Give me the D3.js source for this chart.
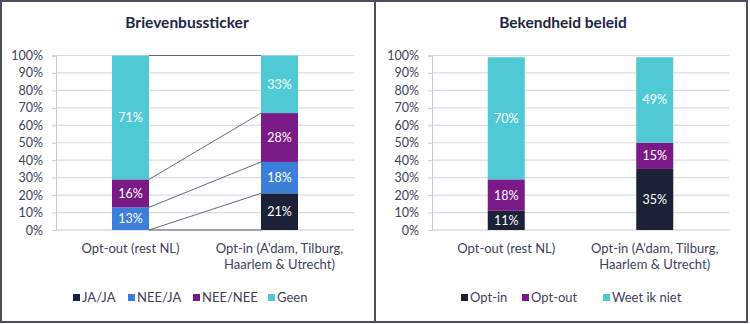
<!DOCTYPE html>
<html><head><meta charset="utf-8">
<script src="https://cdn.jsdelivr.net/npm/d3@7/dist/d3.min.js"></script>
<style>body{margin:0;background:#fff}svg{display:block}text{font-family:Lato,"Open Sans",sans-serif}</style>
</head><body>
<svg id="c" width="750" height="324"></svg>
<script>
// ---- data ----
const categories = ["Opt-out (rest NL)", "Opt-in (A'dam, Tilburg,|Haarlem & Utrecht)"];
const yTicks = [0,10,20,30,40,50,60,70,80,90,100];

const leftTitle = "Brievenbussticker";
const leftSeries = ["JA/JA", "NEE/JA", "NEE/NEE", "Geen"];
const leftJAJA   = [0, 21];
const leftNEEJA  = [13, 18];
const leftNEENEE = [16, 28];
const leftGeen   = [71, 33];

const rightTitle = "Bekendheid beleid";
const rightSeries = ["Opt-in", "Opt-out", "Weet ik niet"];
const rightOptIn  = [11, 35];
const rightOptOut = [18, 15];
const rightWeet   = [70, 49];

const leftColors  = ["#1b2238", "#3b7fd9", "#7a1a86", "#4fc9d4"];
const rightColors = ["#1b2238", "#7a1a86", "#4fc9d4"];

const svg = d3.select("#c");

function panel(cfg){
  const g = svg.append("g");
  const x = d3.scaleBand().domain(categories).range([cfg.x0, cfg.x1]);
  const y = d3.scaleLinear().domain([0,100]).range([230, 55.5]);
  const bw = 37;

  g.append("text").attr("x", cfg.titleX).attr("y", 28).attr("text-anchor","middle")
    .attr("font-weight","bold").attr("font-size",15.5).attr("fill","#1f2640").text(cfg.title);

  // gridlines
  g.selectAll("line.grid").data(yTicks.filter(d=>d>0)).join("line")
    .attr("x1", cfg.x0).attr("x2", cfg.x1).attr("y1", d=>y(d)).attr("y2", d=>y(d))
    .attr("stroke","#dcdce8").attr("stroke-width",1.2);
  // x baseline
  g.append("line").attr("x1",cfg.x0).attr("x2",cfg.x1).attr("y1",y(0)).attr("y2",y(0))
    .attr("stroke","#c8c8d4").attr("stroke-width",1.2);

  // y axis
  const ax = g.append("g").attr("transform",`translate(${cfg.x0},0)`)
    .call(d3.axisLeft(y).tickValues(yTicks).tickFormat(d=>d+"%").tickSize(4).tickPadding(9));
  ax.select(".domain").attr("stroke","#c8c8d4");
  ax.selectAll(".tick line").attr("stroke","#c8c8d4");
  ax.selectAll(".tick text").attr("font-size",12.5).attr("fill","#404258").attr("font-family","Lato");

  // stacks
  const rows = categories.map((c,i)=>{ const o={cat:c}; cfg.series.forEach((s,k)=>o[s]=cfg.values[k][i]); return o; });
  const stack = d3.stack().keys(cfg.series)(rows);
  const cx = c => x(c) + x.bandwidth()/2;

  // connector lines
  if (cfg.connectors){
    const bounds = [];
    stack.forEach(layer=>{ bounds.push([layer[0][0], layer[1][0]]); });
    bounds.push([stack[stack.length-1][0][1], stack[stack.length-1][1][1]]);
    g.selectAll("line.conn").data(bounds).join("line")
      .attr("x1", cx(categories[0])+bw/2).attr("x2", cx(categories[1])-bw/2)
      .attr("y1", d=>y(d[0])).attr("y2", d=>y(d[1]))
      .attr("stroke","#555a66").attr("stroke-width",0.9);
  }

  stack.forEach((layer,k)=>{
    g.selectAll(null).data(layer).join("rect")
      .attr("x", (d,i)=>cx(categories[i])-bw/2).attr("width", bw)
      .attr("y", d=>y(d[1])).attr("height", d=>y(d[0])-y(d[1]))
      .attr("fill", cfg.colors[k]);
    g.selectAll(null).data(layer.filter(d=>d[1]-d[0]>0)).join("text")
      .attr("x", d=>cx(d.data.cat)).attr("y", d=>y((d[0]+d[1])/2)+4.5)
      .attr("text-anchor","middle").attr("font-size",12.5).attr("fill","#fff")
      .text(d=>Math.round(d[1]-d[0])+"%");
  });

  // x labels
  categories.forEach(c=>{
    const lines = c.split("|");
    lines.forEach((t,j)=>{
      g.append("text").attr("x", cx(c)).attr("y", 253 + j*16).attr("text-anchor","middle")
        .attr("font-size",13).attr("fill","#404258").text(t);
    });
  });

  // legend
  cfg.series.forEach((s,k)=>{
    const lx = cfg.legendX[k];
    g.append("rect").attr("x",lx).attr("y",294).attr("width",7).attr("height",7).attr("fill",cfg.colors[k]);
    g.append("text").attr("x",lx+9).attr("y",302).attr("font-size",13).attr("fill","#404258").text(s);
  });
}

panel({x0:56, x1:354, title:leftTitle, titleX:187, series:leftSeries,
  values:[leftJAJA,leftNEEJA,leftNEENEE,leftGeen], colors:leftColors, connectors:true,
  legendX:[73,128,193,268]});
panel({x0:432, x1:729, title:rightTitle, titleX:563, series:rightSeries,
  values:[rightOptIn,rightOptOut,rightWeet], colors:rightColors, connectors:false,
  legendX:[461,522,603]});

// borders
svg.append("rect").attr("x",1).attr("y",1).attr("width",746).attr("height",321)
  .attr("fill","none").attr("stroke","#4a4f63").attr("stroke-width",2);
svg.append("line").attr("x1",375).attr("x2",375).attr("y1",0).attr("y2",323)
  .attr("stroke","#4a4f63").attr("stroke-width",2);
</script>
</body></html>
